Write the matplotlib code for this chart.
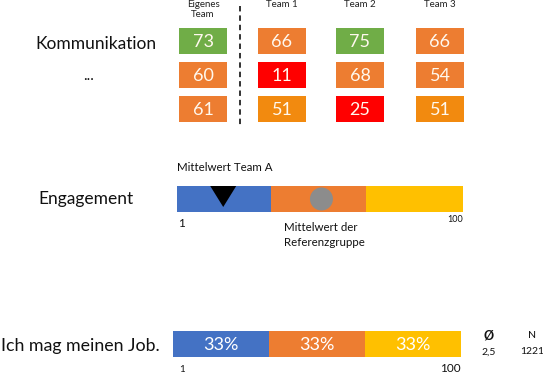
import matplotlib
matplotlib.use("Agg")
import matplotlib.pyplot as plt
from matplotlib.patches import Rectangle, Circle, Polygon

plt.rcParams['font.family'] = ['Lato', 'DejaVu Sans']

# ---- data ----
team_headers = ["Eigenes\nTeam", "Team 1", "Team 2", "Team 3"]
row_labels = ["Kommunikation", "...", ""]
scores = [
    [73, 66, 75, 66],
    [60, 11, 68, 54],
    [61, 51, 25, 51],
]
engagement_scale = [1, 100]
engagement_segments = [33, 33, 34]          # widths of the three bands (share of scale)
engagement_team_mean = 17                   # Mittelwert Team A (position on 1-100 scale)
engagement_ref_mean = 51                    # Mittelwert der Referenzgruppe
job_shares = [33, 33, 33]
job_share_labels = ["33%", "33%", "33%"]
job_mean = "2,5"
job_n = "1221"

BLUE, ORANGE, YELLOW = "#4472C4", "#ED7D31", "#FFC000"
GREEN, RED, DORANGE = "#70AD47", "#FF0000", "#F28A0F"

def cell_color(v):
    if v >= 70:
        return GREEN
    if v >= 54:
        return ORANGE
    if v >= 40:
        return DORANGE
    return RED

fig = plt.figure(figsize=(5.43, 3.74), dpi=100)
ax = fig.add_axes([0, 0, 1, 1])
ax.set_xlim(0, 543)
ax.set_ylim(374, 0)
ax.axis("off")

# ---- heat grid ----
col_x = [203, 282, 360, 440]
row_y = [41, 75, 109]
cw, ch = 48, 26
for j, h in enumerate(team_headers):
    if "\n" in h:
        top, bottom = h.split("\n")
        ax.text(col_x[j], 4, top, ha="center", va="center", fontsize=7, color="#222222")
        ax.text(col_x[j], 14, bottom, ha="center", va="center", fontsize=7, color="#222222")
    else:
        ax.text(col_x[j], 4.5, h, ha="center", va="center", fontsize=7, color="#222222")
for i, row in enumerate(scores):
    for j, v in enumerate(row):
        ax.add_patch(Rectangle((col_x[j] - cw / 2, row_y[i] - ch / 2), cw, ch,
                               facecolor=cell_color(v), edgecolor="none"))
        ax.text(col_x[j], row_y[i] + 1, str(v), ha="center", va="center",
                fontsize=13, color="#FFF8EE")
ax.plot([240, 240], [6, 126], color="#222222", lw=1.3, ls=(0, (3, 2.2)))

for i, lab in enumerate(row_labels):
    if lab:
        if lab == "...":
            ax.text(89, row_y[i] + 1, lab, ha="center", va="center", fontsize=11, color="#111111")
        else:
            ax.text(35, row_y[i] + 3, lab, ha="left", va="center", fontsize=12.5, color="#111111")

# ---- Engagement bar ----
x0, x1 = 177, 463
y0, h = 186, 26
def sx(v):
    return x0 + (v - engagement_scale[0]) / (engagement_scale[1] - engagement_scale[0]) * (x1 - x0)
cols = [BLUE, ORANGE, YELLOW]
left = x0
tot = sum(engagement_segments)
for w, c in zip(engagement_segments, cols):
    ww = w / tot * (x1 - x0)
    ax.add_patch(Rectangle((left, y0), ww, h, facecolor=c, edgecolor="none"))
    left += ww
tx = sx(engagement_team_mean)
ax.add_patch(Polygon([[tx - 13, y0], [tx + 13, y0], [tx, y0 + 21]], closed=True,
                     facecolor="black", edgecolor="none"))
cx = sx(engagement_ref_mean)
ax.add_patch(Circle((cx, y0 + 13), 11.5, facecolor="#8C8C8C", edgecolor="none"))
ax.text(x0, 167, "Mittelwert Team A", ha="left", va="center", fontsize=8.3, color="#111111")
ax.text(x0 + 1, 223, str(engagement_scale[0]), ha="left", va="center", fontsize=8.5, color="#111111")
ax.text(x1, 219, str(engagement_scale[1]), ha="right", va="center", fontsize=6.5, color="#111111")
ax.text(284, 227, "Mittelwert der", ha="left", va="center", fontsize=8.3, color="#111111")
ax.text(284, 242, "Referenzgruppe", ha="left", va="center", fontsize=8.3, color="#111111")
ax.text(38, 199, "Engagement", ha="left", va="center", fontsize=12.5, color="#111111")

# ---- Job bar ----
jx0, jx1 = 173, 461
jy0, jh = 331, 26
left = jx0
tot = sum(job_shares)
for w, c, lab in zip(job_shares, cols, job_share_labels):
    ww = w / tot * (jx1 - jx0)
    ax.add_patch(Rectangle((left, jy0), ww, jh, facecolor=c, edgecolor="none"))
    ax.text(left + ww / 2, jy0 + jh / 2 + 1, lab, ha="center", va="center",
            fontsize=13, color="white")
    left += ww
ax.text(jx0 + 6, 369, "1", ha="left", va="center", fontsize=7, color="#111111")
ax.text(jx1, 369, "100", ha="right", va="center", fontsize=8.5, color="#111111")
ax.text(1, 346, "Ich mag meinen Job.", ha="left", va="center", fontsize=12.8, color="#111111")
ax.text(489, 336, "\u00d8", ha="center", va="center", fontsize=9, fontweight="bold", color="#111111")
ax.text(489, 352, job_mean, ha="center", va="center", fontsize=7.5, color="#111111")
ax.text(532, 336, "N", ha="center", va="center", fontsize=7.5, color="#111111")
ax.text(532, 352, job_n, ha="center", va="center", fontsize=7.5, color="#111111")

fig.savefig("out.png", dpi=100)
